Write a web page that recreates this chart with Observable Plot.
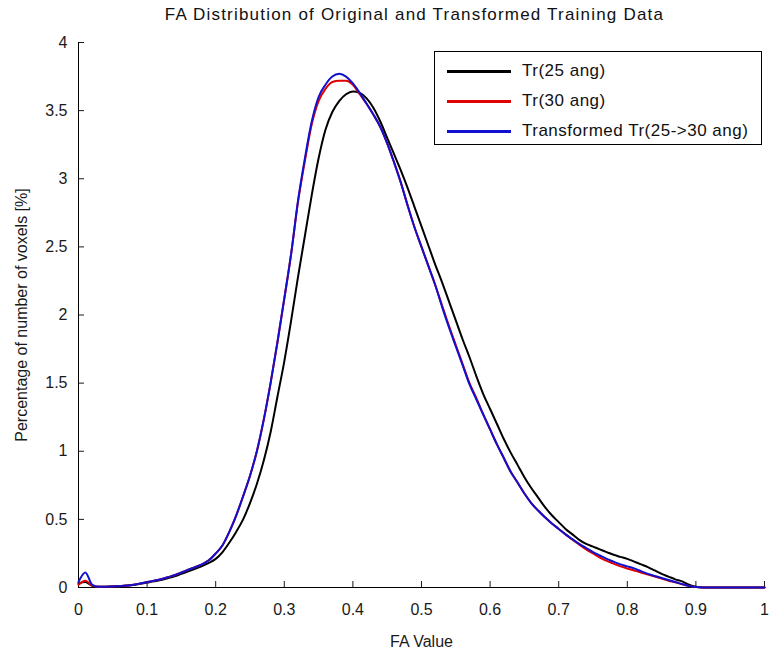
<!DOCTYPE html>
<html>
<head>
<meta charset="utf-8">
<script src="https://cdn.jsdelivr.net/npm/d3@7"></script>
<script src="https://cdn.jsdelivr.net/npm/@observablehq/plot@0.6"></script>
<style>
  body { margin: 0; background: #fff; font-family: "Liberation Sans", Arial, sans-serif; }
  #wrap { position: relative; width: 769px; height: 652px; overflow: hidden; }
  #title { position: absolute; top: 5px; left: 0; width: 829px; text-align: center; font-size: 17px; letter-spacing: 1.2px; color: #111; }
  #legend { position: absolute; left: 434px; top: 51px; width: 328px; height: 94px; border: 1px solid #000; background: #fff; box-sizing: border-box; }
  .row { position: absolute; left: 0; height: 20px; }
  .swatch { position: absolute; left: 12px; width: 64px; height: 3px; }
  .lab { position: absolute; left: 87px; top: -10px; white-space: nowrap; font-size: 17px; letter-spacing: 0.5px; color: #111; }
</style>
</head>
<body>
<div id="wrap">
  <div id="title"></div>
  <div id="chart"></div>
  <div id="legend"></div>
</div>
<script>
// ---- data ----
const titleText = "FA Distribution of Original and Transformed Training Data";
const xLabel = "FA Value";
const yLabel = "Percentage of number of voxels [%]";
const seriesNames = ["Tr(25 ang)", "Tr(30 ang)", "Transformed Tr(25->30 ang)"];
const seriesColors = ["#000000", "#e00000", "#1010d0"];
const xTicks = [0, 0.1, 0.2, 0.3, 0.4, 0.5, 0.6, 0.7, 0.8, 0.9, 1];
const yTicks = [0, 0.5, 1, 1.5, 2, 2.5, 3, 3.5, 4];

// FA values 0.00 .. 1.00 step 0.01
const faValues = [
  0.00,0.01,0.02,0.03,0.04,0.05,0.06,0.07,0.08,0.09,
  0.10,0.11,0.12,0.13,0.14,0.15,0.16,0.17,0.18,0.19,
  0.20,0.21,0.22,0.23,0.24,0.25,0.26,0.27,0.28,0.29,
  0.30,0.31,0.32,0.33,0.34,0.35,0.36,0.37,0.38,0.39,
  0.40,0.41,0.42,0.43,0.44,0.45,0.46,0.47,0.48,0.49,
  0.50,0.51,0.52,0.53,0.54,0.55,0.56,0.57,0.58,0.59,
  0.60,0.61,0.62,0.63,0.64,0.65,0.66,0.67,0.68,0.69,
  0.70,0.71,0.72,0.73,0.74,0.75,0.76,0.77,0.78,0.79,
  0.80,0.81,0.82,0.83,0.84,0.85,0.86,0.87,0.88,0.89,
  0.90,0.91,0.92,0.93,0.94,0.95,0.96,0.97,0.98,0.99,
  1.00
];

const tr25 = [
  0.03,0.04,0.012,0.005,0.006,0.008,0.01,0.013,0.018,0.027,
  0.036,0.045,0.055,0.068,0.082,0.10,0.118,0.137,0.157,0.18,
  0.21,0.26,0.33,0.41,0.50,0.62,0.76,0.93,1.14,1.40,
  1.66,1.96,2.28,2.58,2.88,3.15,3.36,3.49,3.57,3.62,
  3.64,3.63,3.59,3.52,3.42,3.30,3.18,3.06,2.93,2.79,
  2.65,2.51,2.37,2.24,2.10,1.96,1.82,1.69,1.55,1.42,
  1.31,1.20,1.09,0.99,0.90,0.81,0.73,0.66,0.59,0.53,
  0.48,0.43,0.39,0.35,0.32,0.30,0.28,0.26,0.24,0.225,
  0.21,0.19,0.17,0.15,0.125,0.10,0.08,0.06,0.045,0.02,
  0.005,0,0,0,0,0,0,0,0,0,
  0
];

const tr30 = [
  0.02,0.05,0.015,0.005,0.006,0.008,0.01,0.014,0.02,0.03,
  0.04,0.05,0.06,0.075,0.09,0.11,0.13,0.15,0.17,0.20,
  0.25,0.31,0.41,0.53,0.67,0.82,1.00,1.23,1.50,1.80,
  2.12,2.45,2.83,3.13,3.40,3.57,3.66,3.71,3.72,3.72,
  3.69,3.62,3.55,3.47,3.38,3.26,3.12,2.97,2.80,2.64,
  2.50,2.36,2.22,2.07,1.92,1.78,1.64,1.50,1.39,1.27,
  1.16,1.05,0.95,0.85,0.77,0.69,0.62,0.565,0.515,0.47,
  0.43,0.39,0.35,0.315,0.28,0.25,0.22,0.195,0.175,0.155,
  0.14,0.125,0.11,0.095,0.08,0.065,0.05,0.038,0.024,0.01,
  0.003,0,0,0,0,0,0,0,0,0,
  0
];

const trTransformed = [
  0.04,0.11,0.02,0.005,0.006,0.008,0.01,0.014,0.02,0.03,
  0.04,0.05,0.06,0.075,0.09,0.11,0.13,0.15,0.17,0.20,
  0.25,0.31,0.41,0.53,0.67,0.82,1.00,1.23,1.50,1.80,
  2.12,2.45,2.84,3.15,3.42,3.60,3.69,3.75,3.77,3.75,
  3.70,3.63,3.55,3.47,3.38,3.26,3.12,2.97,2.80,2.64,
  2.50,2.36,2.22,2.06,1.91,1.77,1.63,1.49,1.38,1.27,
  1.16,1.05,0.95,0.85,0.77,0.69,0.62,0.565,0.515,0.47,
  0.43,0.39,0.355,0.32,0.29,0.26,0.235,0.21,0.19,0.17,
  0.155,0.14,0.12,0.10,0.085,0.07,0.055,0.04,0.025,0.01,
  0.003,0,0,0,0,0,0,0,0,0,
  0
];

// ---- build table ----
const seriesValues = [tr25, tr30, trTransformed];
const rows = [];
seriesNames.forEach((name, s) => {
  faValues.forEach((x, i) => rows.push({ series: name, x, y: seriesValues[s][i] }));
});

const fmt = d => String(d);

const chart = Plot.plot({
  width: 769,
  height: 652,
  marginLeft: 78,
  marginRight: 5,
  marginTop: 42,
  marginBottom: 65,
  style: { fontFamily: "Liberation Sans, Arial, sans-serif", fontSize: "16px", color: "#1a1a1a", background: "#fff", overflow: "visible" },
  x: { domain: [0, 1] },
  y: { domain: [0, 4] },
  color: { domain: seriesNames, range: seriesColors },
  marks: [
    Plot.axisX({ ticks: xTicks, tickSize: -6, tickPadding: 22, tickFormat: fmt, label: xLabel, labelAnchor: "center", labelArrow: "none", labelOffset: 59 }),
    Plot.axisY({ ticks: yTicks, tickSize: -6, tickPadding: 17, tickFormat: fmt, label: yLabel, labelAnchor: "center", labelArrow: "none", labelOffset: 63 }),
    Plot.ruleY([0], { stroke: "#000" }),
    Plot.ruleX([0], { stroke: "#000" }),
    Plot.line(rows, { x: "x", y: "y", z: "series", stroke: "series", strokeWidth: 2, curve: "monotone-x" })
  ]
});
document.getElementById("chart").appendChild(chart);

document.getElementById("title").textContent = titleText;

const legend = d3.select("#legend");
const rowTops = [19, 49, 79];
seriesNames.forEach((name, i) => {
  const r = legend.append("div").attr("class", "row").style("top", rowTops[i] + "px").style("width", "100%");
  r.append("div").attr("class", "swatch").style("background", seriesColors[i]).style("top", "-1px");
  r.append("div").attr("class", "lab").text(name);
});
</script>
</body>
</html>
